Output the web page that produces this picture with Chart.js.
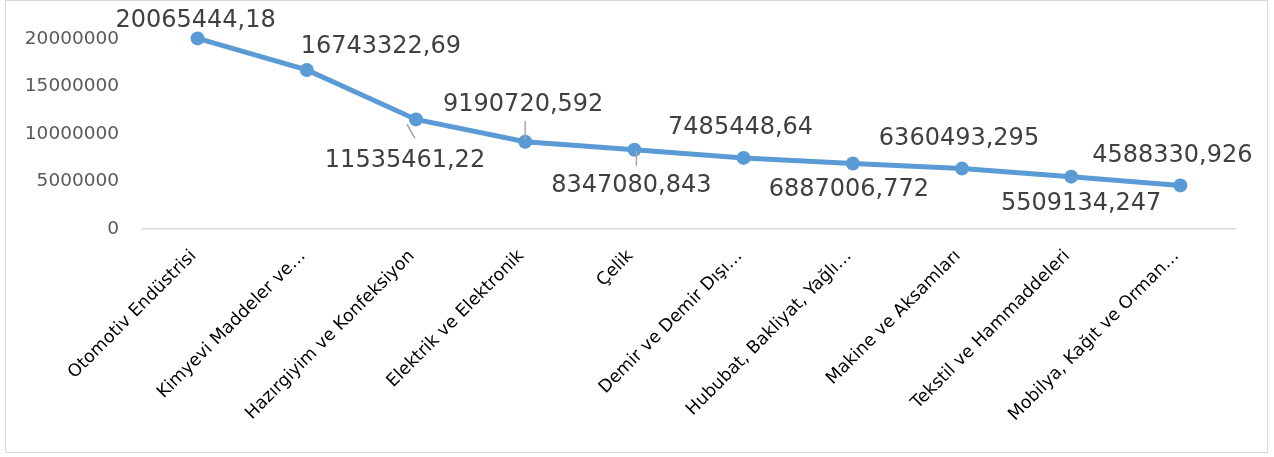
<!DOCTYPE html>
<html>
<head>
<meta charset="utf-8">
<script src="https://cdn.jsdelivr.net/npm/chart.js@4/dist/chart.umd.min.js"></script>
<style>
html,body{margin:0;padding:0;background:#fff;}
#wrap{position:absolute;left:0;top:0;width:1274px;height:457px;}
</style>
</head>
<body>
<div id="wrap"><canvas id="c" width="1274" height="457"></canvas></div>
<script>
const categories = [
  "Otomotiv Endüstrisi",
  "Kimyevi Maddeler ve…",
  "Hazırgiyim ve Konfeksiyon",
  "Elektrik ve Elektronik",
  "Çelik",
  "Demir ve Demir Dışı…",
  "Hububat, Bakliyat, Yağlı…",
  "Makine ve Aksamları",
  "Tekstil ve Hammaddeleri",
  "Mobilya, Kağıt ve Orman…"
];
const exportValues = [
  20065444.18, 16743322.69, 11535461.22, 9190720.592, 8347080.843,
  7485448.64, 6887006.772, 6360493.295, 5509134.247, 4588330.926
];
const yTicks = [0, 5000000, 10000000, 15000000, 20000000];

// label placement relative to each point (style only)
const labelOffsets = [
  [-2,-18],[74,-23],[-11,41],[-2,-37],[-3,36],[-3,-30],[-4,26],[-3,-30],[10,27],[-8,-30]
];
const leaderLines = {2:[[-1,19],[-9,5]], 3:[[0,-21],[0,-2]], 4:[[2,1],[2,16]]};

const labelPlugin = {
  id: 'valueLabels',
  afterDatasetsDraw(chart) {
    const ctx = chart.ctx;
    const meta = chart.getDatasetMeta(0);
    ctx.save();
    meta.data.forEach((pt, i) => {
      const lines = leaderLines[i];
      if (lines) {
        ctx.strokeStyle = '#a6a6a6';
        ctx.lineWidth = 1.5;
        ctx.beginPath();
        ctx.moveTo(pt.x + lines[0][0], pt.y + lines[0][1]);
        ctx.lineTo(pt.x + lines[1][0], pt.y + lines[1][1]);
        ctx.stroke();
      }
    });
    ctx.font = '24px "DejaVu Sans"';
    ctx.fillStyle = '#404040';
    ctx.textAlign = 'center';
    ctx.textBaseline = 'middle';
    meta.data.forEach((pt, i) => {
      const txt = String(exportValues[i]).replace('.', ',');
      const o = labelOffsets[i];
      ctx.fillText(txt, pt.x + o[0], pt.y + o[1]);
    });
    ctx.restore();
  }
};

const borderPlugin = {
  id: 'frame',
  beforeDraw(chart) {
    const ctx = chart.ctx;
    ctx.save();
    ctx.fillStyle = '#fff';
    ctx.fillRect(0,0,chart.width,chart.height);
    ctx.strokeStyle = '#d9d9d9';
    ctx.lineWidth = 1;
    ctx.strokeRect(5.5, 0.5, 1262, 452);
    ctx.restore();
  }
};

new Chart(document.getElementById('c'), {
  type: 'line',
  data: {
    labels: categories,
    datasets: [{
      data: exportValues,
      borderColor: '#5b9bd5',
      backgroundColor: '#5b9bd5',
      borderWidth: 5,
      pointRadius: 7,
      pointHoverRadius: 7,
      pointBorderWidth: 0,
      pointBackgroundColor: '#5b9bd5',
      tension: 0,
      clip: false
    }]
  },
  options: {
    responsive: false,
    animation: false,
    events: [],
    layout: { padding: { left: 0, right: 39, top: 39, bottom: 0 } },
    plugins: { legend: { display: false }, tooltip: { enabled: false } },
    scales: {
      x: {
        offset: true,
        grid: { display: false, drawTicks: false },
        border: { display: true, color: '#d9d9d9', width: 1.5 },
        ticks: {
          maxRotation: 45, minRotation: 45, autoSkip: false,
          padding: 17,
          labelOffset: -4,
          color: '#000',
          font: { family: 'DejaVu Sans', size: 17.5 }
        },
        afterFit(s) { s.height = 228; }
      },
      y: {
        min: 0, max: 20000000,
        afterBuildTicks(s) { s.ticks = yTicks.map(v => ({ value: v })); },
        grid: { display: false, drawTicks: false },
        border: { display: false },
        ticks: {
          padding: 24,
          color: '#595959',
          font: { family: 'DejaVu Sans', size: 18.5 },
          callback: v => String(v)
        },
        afterFit(s) { s.width = 143; }
      }
    }
  },
  plugins: [borderPlugin, labelPlugin]
});
</script>
</body>
</html>
